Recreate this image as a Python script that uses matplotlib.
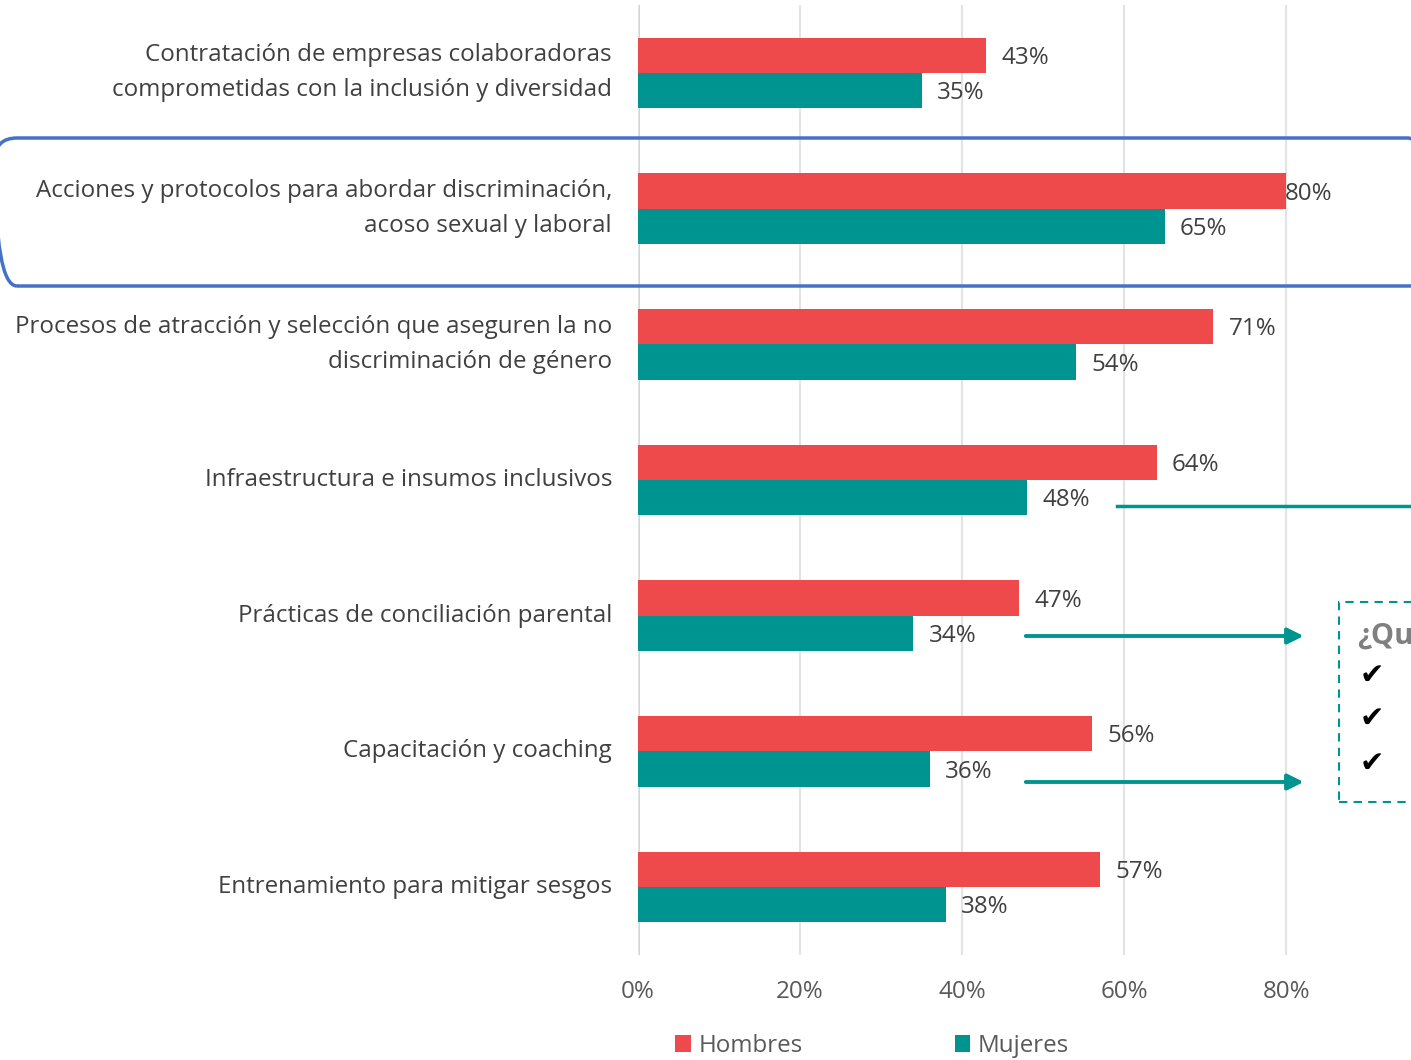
import matplotlib.pyplot as plt
import numpy as np
from matplotlib.patches import FancyBboxPatch, Rectangle

plt.rcParams['font.family'] = ['Open Sans', 'DejaVu Sans']

categories = [
    "Contratación de empresas colaboradoras\ncomprometidas con la inclusión y diversidad",
    "Acciones y protocolos para abordar discriminación,\nacoso sexual y laboral",
    "Procesos de atracción y selección que aseguren la no\ndiscriminación de género",
    "Infraestructura e insumos inclusivos",
    "Prácticas de conciliación parental",
    "Capacitación y coaching",
    "Entrenamiento para mitigar sesgos",
]
hombres = [43, 80, 71, 64, 47, 56, 57]
mujeres = [35, 65, 54, 48, 34, 36, 38]
ticks = [0, 20, 40, 60, 80]

red = "#EF4A4B"
teal = "#009490"
text_gray = "#404040"
tick_gray = "#595959"
fs = 17.4

W, H = 1411, 1060
fig = plt.figure(figsize=(W / 100, H / 100), dpi=100)
ax = fig.add_axes([638 / W, 1 - 955 / H, 1 - 638 / W, (955 - 5) / H])

def px(x, y):
    return (x / W, 1 - y / H)

def inch(x, y):
    # pixel position from top-left -> inches from bottom-left
    return (x / 100, (H - y) / 100)

y = np.arange(len(categories))
h = 0.26
ax.barh(y - h / 2, hombres, height=h, color=red, label="Hombres", zorder=3)
ax.barh(y + h / 2, mujeres, height=h, color=teal, label="Mujeres", zorder=3)

ax.set_xlim(0, 95.4)
ax.set_ylim(len(categories) - 0.5, -0.5)
ax.set_xticks(ticks)
ax.set_xticklabels([f"{t}%" for t in ticks], fontsize=fs, color=tick_gray)
ax.tick_params(axis='x', length=0, pad=18)
ax.set_yticks([])
for s in ax.spines.values():
    s.set_visible(False)
ax.grid(axis='x', color="#E3E3E3", linewidth=1.5, zorder=0)
ax.axvline(0, color="#CFCFCF", linewidth=2, zorder=1)

for i, (hv, mv) in enumerate(zip(hombres, mujeres)):
    ax.text(min(hv + 1.9, 79.8), i - h / 2 + 0.02, f"{hv}%", va='center', ha='left',
            fontsize=fs, color=text_gray, zorder=4)
    ax.text(mv + 1.9, i + h / 2 + 0.02, f"{mv}%", va='center', ha='left',
            fontsize=fs, color=text_gray, zorder=4)
    ax.text(-3.2, i, categories[i], va='center', ha='right', fontsize=fs,
            color=text_gray, linespacing=1.62, clip_on=False)

# legend
fig.legend(loc='center', bbox_to_anchor=px(872, 1046), ncol=2, frameon=False,
           fontsize=fs, labelcolor=tick_gray, handlelength=0.65, handleheight=0.65,
           handletextpad=0.3, columnspacing=6.3)

# highlight box around second category
bx, by = inch(-5, 286)
box = FancyBboxPatch((bx, by), 14.35, 1.48,
                     boxstyle="round,pad=0,rounding_size=0.22",
                     transform=fig.dpi_scale_trans, fill=False,
                     edgecolor="#4472C4", linewidth=2.5, zorder=10)
fig.patches.append(box)

# teal connector lines / arrows
fig.add_artist(plt.Line2D([1117 / W, 1.0], [1 - 506 / H] * 2,
                          transform=fig.transFigure, color=teal, linewidth=2.5))
for yy in [636, 782]:
    fig.add_artist(plt.annotate("", xy=px(1306, yy), xytext=px(1023, yy),
                                xycoords='figure fraction',
                                arrowprops=dict(arrowstyle="-|>", color=teal,
                                                linewidth=2.5, mutation_scale=24)))

# dashed box, cut off at the right edge
bx0, by0 = px(1339, 802)
bx1, by1 = px(1430, 602)
fig.patches.append(Rectangle((bx0, by0), bx1 - bx0, by1 - by0,
                             transform=fig.transFigure, fill=False,
                             edgecolor=teal, linewidth=1.5, linestyle=(0, (4, 3))))
fig.text(*px(1357, 636), "¿Qu", fontsize=21, fontweight='bold', color="#808080",
         va='center', ha='left')
for yy in [676, 719, 764]:
    fig.text(*px(1360, yy), "✔", fontsize=21, color="black", va='center',
             ha='left', family=['DejaVu Sans'])

fig.savefig("out.png", dpi=100)
